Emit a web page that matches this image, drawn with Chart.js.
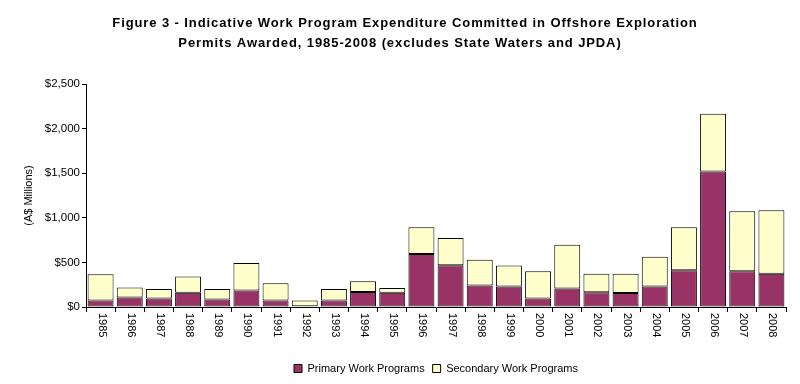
<!DOCTYPE html>
<html>
<head>
<meta charset="utf-8">
<script src="https://cdn.jsdelivr.net/npm/chart.js@4"></script>
<style>
  html, body { margin: 0; padding: 0; background: #fff; }
  #wrap { width: 800px; height: 384px; }
</style>
</head>
<body>
<div id="wrap"><canvas id="myChart" width="800" height="384"></canvas></div>
<script>
// A$ millions
const years = ["1985", "1986", "1987", "1988", "1989", "1990", "1991", "1992", "1993", "1994", "1995", "1996",
  "1997", "1998", "1999", "2000", "2001", "2002", "2003", "2004", "2005", "2006", "2007", "2008"];
const primary = [72, 106, 95, 159, 83, 186, 72, 8, 72, 167, 159, 595,
  469, 240, 229, 94, 206, 165, 158, 229, 413, 1520, 402, 372];
const secondary = [295, 114, 106, 182, 118, 307, 193, 64, 129, 121, 53, 298,
  304, 289, 236, 308, 492, 207, 214, 334, 480, 646, 672, 713];
const yTicks = [0, 500, 1000, 1500, 2000, 2500];
const titleLines = ['Figure 3 - Indicative Work Program Expenditure Committed in Offshore Exploration',
  'Permits Awarded, 1985-2008 (excludes State Waters and JPDA)'];

const fontFamily = '"Liberation Sans", Arial, sans-serif';

// title is drawn by hand so it can be letter-spaced like the original;
// the chart.js title stays (transparent) just to reserve the space
const spacedTitle = {
  id: 'spacedTitle',
  afterDraw(chart) {
    const ctx = chart.ctx;
    ctx.save();
    ctx.font = 'bold 13px ' + fontFamily;
    ctx.letterSpacing = '0.9px';
    ctx.fillStyle = '#000';
    ctx.textAlign = 'center';
    ctx.textBaseline = 'middle';
    ctx.fillText(titleLines[0], 405, 23);
    ctx.fillText(titleLines[1], 400, 43);
    ctx.restore();
  }
};

// draw the year labels rotated clockwise (reading top to bottom)
const yearLabels = {
  id: 'yearLabels',
  afterDraw(chart) {
    const ctx = chart.ctx;
    const xs = chart.scales.x;
    ctx.save();
    ctx.font = '11px ' + fontFamily;
    ctx.fillStyle = '#000';
    ctx.textAlign = 'left';
    ctx.textBaseline = 'middle';
    years.forEach((y, i) => {
      const px = xs.getPixelForTick(i);
      ctx.save();
      ctx.translate(px + 1, xs.top + 6);
      ctx.rotate(Math.PI / 2);
      ctx.fillText(y, 0, 0);
      ctx.restore();
    });
    ctx.restore();
  }
};

const data = {
  labels: years,
  datasets: [{
    label: 'Primary Work Programs',
    backgroundColor: '#993366',
    borderColor: '#000',
    borderWidth: 1,
    borderSkipped: false,
    data: primary,
  }, {
    label: 'Secondary Work Programs',
    backgroundColor: '#FFFFCC',
    borderColor: '#000',
    borderWidth: 1,
    borderSkipped: false,
    data: secondary,
  }]
};

const config = {
  type: 'bar',
  data,
  options: {
    responsive: false,
    animation: false,
    layout: { padding: { left: 0, right: 14, top: 0, bottom: 0 } },
    datasets: { bar: { barPercentage: 0.89, categoryPercentage: 1 } },
    plugins: {
      title: {
        display: true,
        text: titleLines,
        color: 'rgba(0,0,0,0)',
        font: { family: fontFamily, size: 13, weight: 'bold', lineHeight: 20 / 13 },
        padding: { top: 13, bottom: 31 }
      },
      legend: {
        position: 'bottom',
        fullSize: false,
        labels: {
          color: '#000',
          boxWidth: 8,
          boxHeight: 8,
          padding: 8,
          font: { family: fontFamily, size: 11 }
        }
      },
      tooltip: { enabled: false }
    },
    scales: {
      x: {
        stacked: true,
        grid: { drawOnChartArea: false, offset: true, color: '#000', tickLength: 5 },
        border: { color: '#000' },
        ticks: { display: false },
        afterFit(scale) { scale.height = 48; }
      },
      y: {
        stacked: true,
        min: 0,
        max: 2500,
        afterBuildTicks(scale) { scale.ticks = yTicks.map(v => ({ value: v })); },
        grid: { drawOnChartArea: false, color: '#000', tickLength: 4 },
        border: { color: '#000' },
        ticks: {
          color: '#000',
          padding: 2,
          font: { family: fontFamily, size: 11.5 },
          callback: v => '$' + v.toLocaleString('en-US')
        },
        title: {
          display: true,
          text: '(A$ Millions)',
          color: '#000',
          font: { family: fontFamily, size: 11 },
          padding: { top: 22, bottom: 0 }
        },
        afterFit(scale) { scale.width = 86; }
      }
    }
  },
  plugins: [spacedTitle, yearLabels]
};

var myChart = new Chart(document.getElementById('myChart'), config);
</script>
</body>
</html>
